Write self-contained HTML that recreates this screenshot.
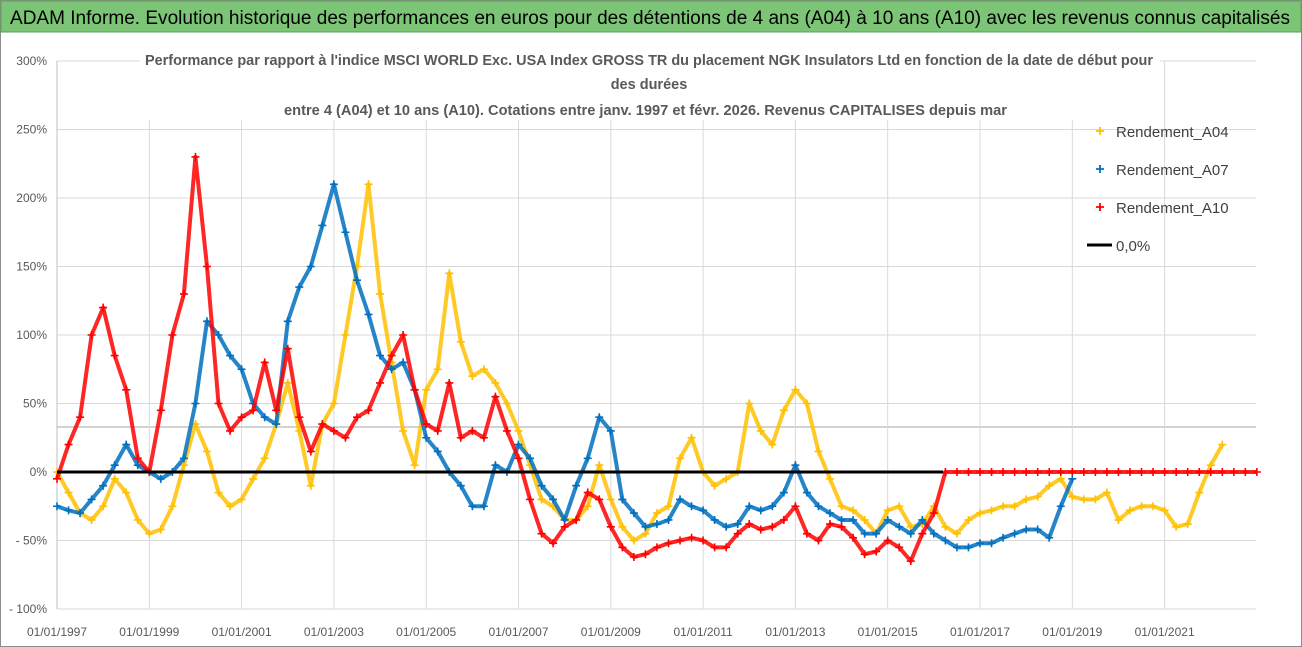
<!DOCTYPE html>
<html><head><meta charset="utf-8"><style>
html,body{margin:0;padding:0;background:#fff;width:1302px;height:647px;overflow:hidden}
svg{display:block;font-family:"Liberation Sans",sans-serif}
</style></head><body>
<svg id="chart" width="1302" height="647" viewBox="0 0 1302 647">
<rect x="0.5" y="0.5" width="1301" height="646" fill="#fff" stroke="#8c8c8c"/>
<rect x="1" y="1" width="1300" height="31" fill="#7cc576" stroke="#5a9e55"/>
<text x="10" y="24" font-size="19" fill="#000" textLength="1280" lengthAdjust="spacingAndGlyphs">ADAM Informe. Evolution historique des performances en euros pour des détentions de 4 ans (A04) à 10 ans (A10) avec les revenus connus capitalisés</text>
<g id="grid"></g>
<g id="axes"></g>
<g id="series"></g>
<rect x="140" y="46" width="1020" height="74" fill="#fff"/>
<g font-weight="bold" font-size="14.5" fill="#595959">
<text x="145" y="65" textLength="1008" lengthAdjust="spacingAndGlyphs">Performance par rapport à l'indice MSCI WORLD Exc. USA Index GROSS TR  du placement NGK Insulators Ltd en fonction de la date de début pour</text>
<text x="649" y="89" text-anchor="middle">des durées</text>
<text x="284" y="115" textLength="723" lengthAdjust="spacingAndGlyphs">entre 4 (A04) et 10 ans (A10). Cotations entre janv. 1997 et févr. 2026. Revenus CAPITALISES depuis mar</text>
</g>
<g id="legend"></g>
</svg>
<script>
const yTickValues=[300,250,200,150,100,50,0,-50,-100];
const yTickLabels=["300%","250%","200%","150%","100%","50%","0%","- 50%","- 100%"];
const xTickYears=[1997,1999,2001,2003,2005,2007,2009,2011,2013,2015,2017,2019,2021];
const xTickLabels=["01/01/1997","01/01/1999","01/01/2001","01/01/2003","01/01/2005","01/01/2007","01/01/2009","01/01/2011","01/01/2013","01/01/2015","01/01/2017","01/01/2019","01/01/2021"];
const seriesStart=1997;
const seriesStep=0.25;
const a04Values=[0,-15,-30,-35,-25,-5,-15,-35,-45,-42,-25,5,35,15,-15,-25,-20,-5,10,35,65,30,-10,35,50,100,150,210,130,80,30,5,60,75,145,95,70,75,65,50,30,5,-20,-25,-35,-35,-25,5,-20,-40,-50,-45,-30,-25,10,25,0,-10,-5,0,50,30,20,45,60,50,15,-5,-25,-28,-35,-45,-28,-25,-40,-38,-25,-40,-45,-35,-30,-28,-25,-25,-20,-18,-10,-5,-18,-20,-20,-15,-35,-28,-25,-25,-28,-40,-38,-15,5,20];
const a07Values=[-25,-28,-30,-20,-10,5,20,5,0,-5,0,10,50,110,100,85,75,50,40,35,110,135,150,180,210,175,140,115,85,75,80,60,25,15,0,-10,-25,-25,5,0,20,10,-10,-20,-35,-10,10,40,30,-20,-30,-40,-38,-35,-20,-25,-28,-35,-40,-38,-25,-28,-25,-15,5,-15,-25,-30,-35,-35,-45,-45,-35,-40,-45,-35,-45,-50,-55,-55,-52,-52,-48,-45,-42,-42,-48,-25,-5];
const a10Values=[-5,20,40,100,120,85,60,10,0,45,100,130,230,150,50,30,40,45,80,45,90,40,15,35,30,25,40,45,65,85,100,60,35,30,65,25,30,25,55,30,10,-20,-45,-52,-40,-35,-15,-20,-40,-55,-62,-60,-55,-52,-50,-48,-50,-55,-55,-45,-38,-42,-40,-35,-25,-45,-50,-38,-40,-48,-60,-58,-50,-55,-65,-45,-30,0,0,0,0,0,0,0,0,0,0,0,0,0,0,0,0,0,0,0,0,0,0,0,0,0,0,0,0];
const zeroLine=[0,0];
const zeroLineYears=[1997,2016.2];
const seriesNames=["Rendement_A04","Rendement_A07","Rendement_A10"];

const NS="http://www.w3.org/2000/svg";
const X0=57,PX_YEAR=46.15,Y0=472,PX_PCT=1.37;
function xs(year){return X0+(year-1997)*PX_YEAR;}
function ys(v){return Y0-v*PX_PCT;}
function mk(tag,attrs,parent){const e=document.createElementNS(NS,tag);for(const k in attrs)e.setAttribute(k,attrs[k]);parent.appendChild(e);return e;}
const grid=document.getElementById('grid'),axes=document.getElementById('axes'),ser=document.getElementById('series'),leg=document.getElementById('legend');
const RIGHT=1256;
yTickValues.forEach((v,i)=>{
  const l=mk('line',{x1:X0,x2:RIGHT,y1:ys(v),y2:ys(v),stroke:'#d9d9d9','stroke-width':1},grid);
  
  
  const t=mk('text',{x:47,y:ys(v)+4,'text-anchor':'end','font-size':12,fill:'#595959'},axes);
  t.textContent=yTickLabels[i];
  
  
});
const extra=mk('line',{x1:X0,x2:RIGHT,y1:427,y2:427,stroke:'#a6a6a6','stroke-width':1},grid);


xTickYears.forEach((yr,i)=>{
  const l=mk('line',{x1:xs(yr),x2:xs(yr),y1:ys(300),y2:ys(-100),stroke:'#d9d9d9','stroke-width':1},grid);
  
  
  const t=mk('text',{x:xs(yr),y:636,'text-anchor':'middle','font-size':12,fill:'#595959'},axes);
  t.textContent=xTickLabels[i];
  
  
});
const ax=mk('line',{x1:X0,x2:X0,y1:ys(300),y2:ys(-100),stroke:'#bfbfbf'},axes);



function drawSeries(vals,color,name){
  const g=mk('g',{},ser);
  
  
  const pts=vals.map((v,i)=>xs(seriesStart+i*seriesStep).toFixed(1)+','+ys(v).toFixed(1)).join(' ');
  const pl=mk('polyline',{points:pts,fill:'none',stroke:color,'stroke-width':4,'stroke-linejoin':'round','stroke-opacity':0.85},g);
  
  
  vals.forEach((v,i)=>{
    const x=xs(seriesStart+i*seriesStep),y=ys(v);
    const p=mk('path',{d:`M${x-4},${y}h8M${x},${y-4}v8`,stroke:color,'stroke-width':1.6},g);
    
    
  });
}
drawSeries(a04Values,'#ffc000','series-a04');
drawSeries(a07Values,'#0070c0','series-a07');
drawSeries(a10Values,'#ff0000','series-a10');
const zl=mk('line',{x1:xs(zeroLineYears[0]),x2:xs(zeroLineYears[1]),y1:ys(zeroLine[0]),y2:ys(zeroLine[1]),stroke:'#000','stroke-width':3},ser);



const legColors=['#ffc000','#0070c0','#ff0000'];
seriesNames.forEach((n,i)=>{
  const y=131+i*38;
  const g=mk('g',{},leg);
  
  
  mk('path',{d:`M${1096},${y}h8M${1100},${y-4}v8`,stroke:legColors[i],'stroke-width':1.8},g);
  const t=mk('text',{x:1116,y:y+6,'font-size':15,fill:'#404040'},g);
  t.textContent=n;
});
const g0=mk('g',{},leg);


mk('line',{x1:1087,x2:1112,y1:245,y2:245,stroke:'#000','stroke-width':3},g0);
const t0=mk('text',{x:1116,y:251,'font-size':15,fill:'#404040'},g0);
t0.textContent='0,0%';
</script>
</body></html>
